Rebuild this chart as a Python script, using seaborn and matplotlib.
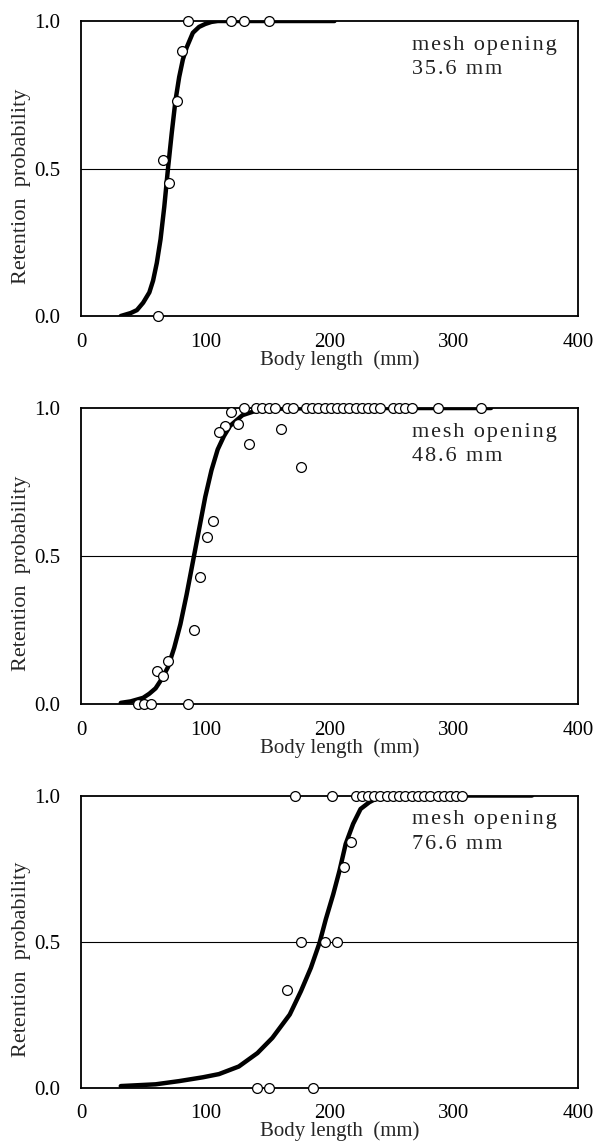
import numpy as np
import pandas as pd
import matplotlib
matplotlib.use("Agg")
import matplotlib.pyplot as plt
import seaborn as sns
from matplotlib.ticker import MultipleLocator

##### 観測点 (mesh 35.6 mm)
obs1_x = [86, 121, 131, 151, 81, 77, 66, 71, 62]
obs1_y = [1.0, 1.0, 1.0, 1.0, 0.90, 0.73, 0.53, 0.45, 0.0]

##### 観測点 (mesh 48.6 mm)
obs2_x = [131, 141, 146, 151, 156, 166, 171, 181, 186, 191, 196, 201, 206, 211,
          216, 221, 226, 231, 236, 241, 251, 256, 261, 266, 287, 322,
          121, 116, 111, 126, 135, 161, 177, 106, 101, 96, 91, 70, 61, 66,
          46, 51, 56, 86]
obs2_y = [1.0] * 26 + [0.985, 0.94, 0.92, 0.945, 0.88, 0.93, 0.80, 0.62, 0.565,
                       0.43, 0.25, 0.145, 0.11, 0.095, 0.0, 0.0, 0.0, 0.0]

##### 観測点 (mesh 76.6 mm)
obs3_x = [172, 202, 221, 226, 231, 236, 241, 246, 251, 256, 261, 266, 271, 276,
          281, 287, 292, 297, 302, 307,
          217, 212, 177, 196, 206, 166, 142, 151, 187]
obs3_y = [1.0] * 20 + [0.84, 0.755, 0.50, 0.50, 0.50, 0.335, 0.0, 0.0, 0.0]

##### 推定曲線
fit1_x = [32, 40, 45, 50, 55, 58, 61, 64, 67, 70, 73, 76, 79, 82, 85, 90, 95,
          100, 105, 110, 204]
fit1_y = [0.0, 0.01, 0.02, 0.045, 0.08, 0.12, 0.18, 0.26, 0.37, 0.50, 0.62,
          0.73, 0.81, 0.87, 0.91, 0.96, 0.98, 0.99, 0.997, 1.0, 1.0]

fit2_x = [32, 40, 50, 55, 60, 65, 70, 75, 80, 85, 90, 95, 100, 105, 110, 115,
          120, 130, 140, 160, 200, 330]
fit2_y = [0.004, 0.009, 0.021, 0.035, 0.053, 0.085, 0.125, 0.19, 0.27, 0.37, 0.48,
          0.59, 0.70, 0.79, 0.86, 0.905, 0.94, 0.976, 0.99, 0.998, 1.0, 1.0]

fit3_x = [32, 60, 79, 98, 111, 127, 142, 154, 168, 177, 185, 192, 197, 203, 208,
          213, 219, 225, 232, 240, 250, 363]
fit3_y = [0.005, 0.011, 0.022, 0.035, 0.046, 0.072, 0.118, 0.17, 0.25, 0.33,
          0.41, 0.496, 0.576, 0.662, 0.742, 0.834, 0.903, 0.954, 0.977, 0.995,
          1.0, 1.0]

mesh_labels = ["35.6 mm", "48.6 mm", "76.6 mm"]

##### スタイル
sns.set_style("white")
plt.rcParams['font.family'] = ['Liberation Serif', 'DejaVu Serif']
plt.rcParams['font.size'] = 15

fig = plt.figure(figsize=(5.94, 11.42), dpi=100)
rects = [
    [0.1364, 0.7233, 0.8367, 0.2583],
    [0.1364, 0.3835, 0.8367, 0.2592],
    [0.1364, 0.0477, 0.8367, 0.2557],
]

panels = [
    (obs1_x, obs1_y, fit1_x, fit1_y),
    (obs2_x, obs2_y, fit2_x, fit2_y),
    (obs3_x, obs3_y, fit3_x, fit3_y),
]

def spaced(s):
    # 文字間を少し広げる (hair space)
    return "\u200a".join(s)

for rect, (ox, oy, fx, fy), mesh in zip(rects, panels, mesh_labels):
    ax = fig.add_axes(rect)
    ax.axhline(0.5, color='black', lw=0.8, zorder=1)
    sns.lineplot(x=fx, y=fy, ax=ax, color='black', lw=3.2, zorder=2,
                 estimator=None, sort=False)
    sns.scatterplot(x=ox, y=oy, ax=ax, s=50, facecolor='white', edgecolor='black',
                    linewidth=0.9, zorder=3, clip_on=False)

    ax.set_xlim(0, 400)
    ax.set_ylim(0, 1)
    ax.set_xticks([0, 100, 200, 300, 400])
    ax.xaxis.set_minor_locator(MultipleLocator(50))
    ax.set_yticks([0.0, 0.5, 1.0])
    ax.set_yticklabels(["0.0", "0.5", "1.0"])
    ax.yaxis.set_minor_locator(MultipleLocator(0.1))
    ax.tick_params(axis='both', which='both', direction='in', length=4, width=0.8,
                   colors='black', labelsize=15)
    ax.tick_params(axis='x', pad=12)
    ax.tick_params(axis='y', pad=15)

    for sp in ax.spines.values():
        sp.set_color('black')
        sp.set_linewidth(1.3)

    ax.set_xlabel("Body length  (mm)", fontsize=15)
    ax.xaxis.set_label_coords(0.521, -0.115)
    ax.set_ylabel("Retention  probability", fontsize=16)
    ax.yaxis.set_label_coords(-0.1, 0.44)

    ax.text(0.665, 0.95, spaced("mesh opening") + "\n" + spaced(mesh),
            transform=ax.transAxes, ha='left', va='top', fontsize=16,
            linespacing=1.4, color='#222222')

fig.savefig("out.png", dpi=100)
